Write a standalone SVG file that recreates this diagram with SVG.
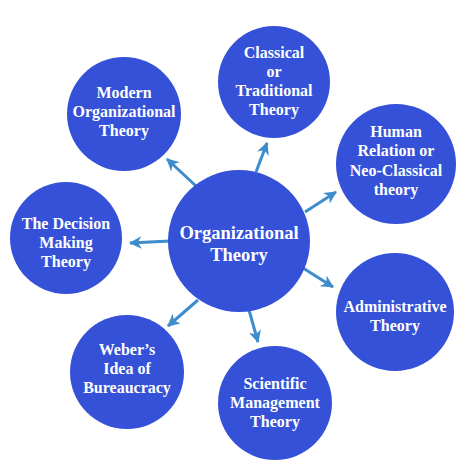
<svg xmlns="http://www.w3.org/2000/svg" width="474" height="474" viewBox="0 0 474 474">
<defs>
<style>
.node{fill:#3451d8}
.lbl{fill:#ffffff;font-family:"Liberation Serif","Times New Roman",serif;font-weight:bold;font-size:16px;text-anchor:middle}
.big{font-size:18.5px}
.edge{stroke:#3d8ccb;stroke-width:3;fill:none;marker-end:url(#ah)}
</style>
<marker id="ah" viewBox="0 0 12 12" refX="11" refY="6" markerWidth="4.2" markerHeight="4.2" orient="auto" markerUnits="strokeWidth">
<path d="M0,0 L12,6 L0,12 L3.5,6 z" fill="#3d8ccb"/>
</marker>
</defs>
<rect width="474" height="474" fill="#ffffff"/>
<g id="connectors">
<line class="edge" x1="196" y1="186" x2="167" y2="159"/>
<line class="edge" x1="256" y1="172" x2="267" y2="143"/>
<line class="edge" x1="305" y1="212" x2="336" y2="192"/>
<line class="edge" x1="170" y1="241" x2="130" y2="243"/>
<line class="edge" x1="303" y1="268" x2="333" y2="287"/>
<line class="edge" x1="198" y1="300" x2="168" y2="326"/>
<line class="edge" x1="249" y1="310" x2="258" y2="342"/>
</g>
<g id="center">
<circle class="node" cx="239" cy="241" r="71"/>
<text class="lbl big" x="239" y="239">Organizational</text>
<text class="lbl big" x="239" y="261">Theory</text>
</g>
<g id="modern">
<circle class="node" cx="124" cy="114" r="57"/>
<text class="lbl" x="124" y="98">Modern</text>
<text class="lbl" x="124" y="117">Organizational</text>
<text class="lbl" x="124" y="136">Theory</text>
</g>
<g id="classical">
<circle class="node" cx="274" cy="82" r="56"/>
<text class="lbl" x="274" y="58">Classical</text>
<text class="lbl" x="274" y="77">or</text>
<text class="lbl" x="274" y="96">Traditional</text>
<text class="lbl" x="274" y="115">Theory</text>
</g>
<g id="human">
<circle class="node" cx="396" cy="164" r="60"/>
<text class="lbl" x="396" y="137">Human</text>
<text class="lbl" x="396" y="156">Relation or</text>
<text class="lbl" x="396" y="176">Neo-Classical</text>
<text class="lbl" x="396" y="195">theory</text>
</g>
<g id="decision">
<circle class="node" cx="66" cy="238" r="56"/>
<text class="lbl" x="66" y="229">The Decision</text>
<text class="lbl" x="66" y="248">Making</text>
<text class="lbl" x="66" y="267">Theory</text>
</g>
<g id="administrative">
<circle class="node" cx="395" cy="312" r="59"/>
<text class="lbl" x="395" y="312">Administrative</text>
<text class="lbl" x="395" y="331">Theory</text>
</g>
<g id="weber">
<circle class="node" cx="127" cy="372" r="57"/>
<text class="lbl" x="127" y="355">Weber’s</text>
<text class="lbl" x="127" y="374">Idea of</text>
<text class="lbl" x="127" y="393">Bureaucracy</text>
</g>
<g id="scientific">
<circle class="node" cx="275" cy="403" r="57"/>
<text class="lbl" x="275" y="389">Scientific</text>
<text class="lbl" x="275" y="408">Management</text>
<text class="lbl" x="275" y="427">Theory</text>
</g>
</svg>
